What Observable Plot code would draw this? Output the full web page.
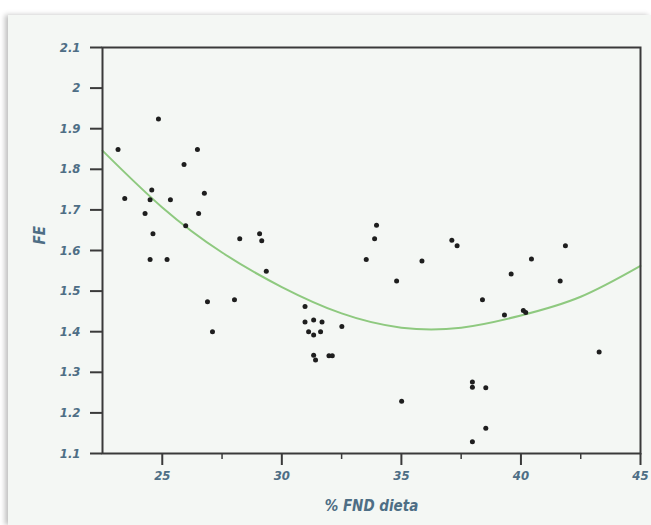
<!DOCTYPE html>
<html>
<head>
<meta charset="utf-8">
<script src="https://cdn.jsdelivr.net/npm/d3@7"></script>
<script src="https://cdn.jsdelivr.net/npm/@observablehq/plot@0.6"></script>
<style>
  html, body { margin: 0; padding: 0; background: #ffffff; }
  #wrap { position: relative; width: 651px; height: 525px; overflow: hidden; }
  #panel { position: absolute; left: 8px; top: 15px; right: 0; bottom: 0;
           background: #f4f7f4; box-shadow: -3px 0 5px rgba(0,0,0,0.25); }
  #chart { position: absolute; left: 0; top: 0; }
</style>
</head>
<body>
<div id="wrap"><div id="panel"></div><div id="chart"></div></div>
<script>
// Scatter data: % FND dieta (x) vs FE (y)
const fndX = [24.84,23.15,26.47,25.91,24.56,23.43,24.49,25.34,26.76,24.28,26.52,25.98,
              24.61,24.49,25.20,28.24,29.07,29.16,29.35,26.89,28.02,27.10,
              30.97,30.97,31.33,31.68,31.12,31.33,31.62,32.51,31.33,31.41,31.97,32.11,
              33.96,33.88,33.53,34.80,35.86,37.11,37.33,
              35.01,37.97,37.97,38.53,38.53,37.97,
              38.39,39.31,40.10,40.20,39.59,40.44,41.64,41.86,43.27];
const feY  = [1.924,1.849,1.849,1.812,1.749,1.728,1.725,1.725,1.741,1.691,1.691,1.661,
              1.641,1.578,1.578,1.629,1.641,1.624,1.549,1.474,1.479,1.400,
              1.462,1.424,1.429,1.424,1.400,1.392,1.400,1.413,1.342,1.330,1.341,1.341,
              1.662,1.629,1.578,1.525,1.574,1.625,1.612,
              1.229,1.276,1.263,1.262,1.162,1.129,
              1.479,1.441,1.452,1.447,1.542,1.579,1.525,1.612,1.350];
// Fitted curve
const curveX = [22.5,25,27.5,30,32.5,35,37.5,40,42.5,45];
const curveY = [1.846,1.706,1.595,1.510,1.445,1.410,1.410,1.440,1.486,1.562];
// Ticks
const xTicks = [25,30,35,40,45];
const xMinorTicks = [27.5,32.5,37.5,42.5];
const yTicks = [1.1,1.2,1.3,1.4,1.5,1.6,1.7,1.8,1.9,2,2.1];
const xLabel = "% FND dieta";
const yLabel = "FE";

const points = fndX.map((x, i) => ({x, y: feY[i]}));
const curve = curveX.map((x, i) => ({x, y: curveY[i]}));

const txtColor = "#4e6e85";
const axColor = "#3a3a3a";
const font = "'DejaVu Sans Condensed', 'DejaVu Sans', sans-serif";

const chart = Plot.plot({
  width: 651,
  height: 525,
  marginLeft: 102,
  marginRight: 11,
  marginTop: 47,
  marginBottom: 72,
  style: {background: "transparent", fontFamily: font},
  x: {domain: [22.5, 45]},
  y: {domain: [1.1, 2.1]},
  marks: [
    Plot.line(curve, {x: "x", y: "y", stroke: "#8ec97f", strokeWidth: 2, curve: "natural"}),
    Plot.dot(points, {x: "x", y: "y", r: 2.5, fill: "#1e1e1e", stroke: "none"}),
    Plot.axisX({ticks: xMinorTicks, tickSize: 6, tickFormat: () => "", stroke: axColor, strokeWidth: 1.5, label: null}),
    Plot.axisX({ticks: xTicks, tickSize: 12, tickPadding: 5, stroke: axColor, strokeWidth: 2,
                fill: txtColor, fontSize: 13, fontStyle: "italic", fontWeight: "bold", label: null}),
    Plot.axisY({ticks: yTicks, tickSize: 12, tickPadding: 10, tickFormat: d3.format("~g"),
                stroke: axColor, strokeWidth: 2,
                fill: txtColor, fontSize: 13, fontStyle: "italic", fontWeight: "bold", label: null}),
    Plot.frame({stroke: axColor, strokeWidth: 2}),
    Plot.text([xLabel], {text: d => d, frameAnchor: "bottom", dy: 57, fill: txtColor,
                fontSize: 15, fontStyle: "italic", fontWeight: "bold"}),
    Plot.text([yLabel], {text: d => d, frameAnchor: "left", dx: -62, dy: -6, rotate: -90, fill: txtColor,
                fontSize: 15, fontStyle: "italic", fontWeight: "bold"})
  ]
});
document.getElementById("chart").appendChild(chart);
</script>
</body>
</html>
